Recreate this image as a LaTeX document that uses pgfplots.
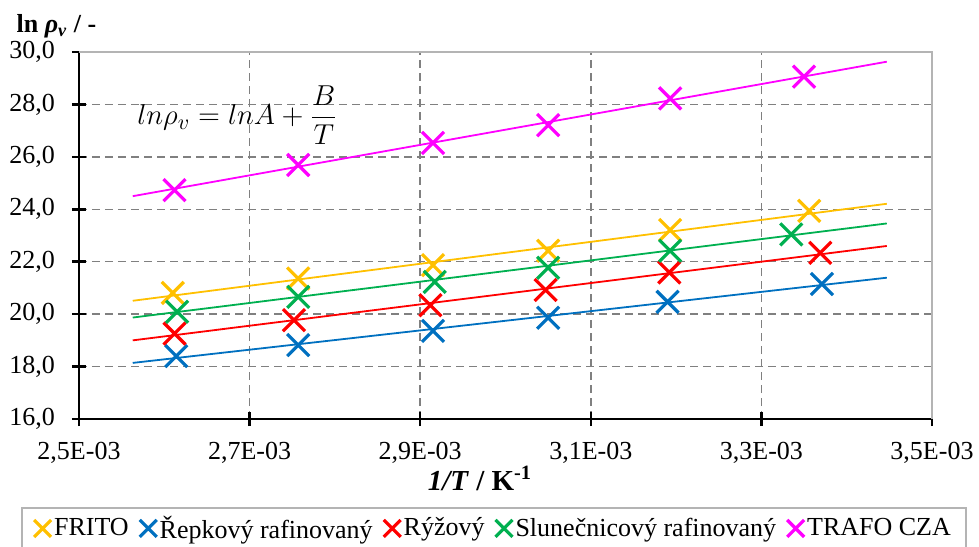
\documentclass[border=0pt]{standalone}
\usepackage{pgfplots}
\pgfplotsset{compat=1.18}
\usepackage{fontspec}
\setmainfont{Liberation Serif}
\definecolor{cOra}{HTML}{FFC000}
\definecolor{cBlu}{HTML}{0070C0}
\definecolor{cRed}{HTML}{FF0000}
\definecolor{cGrn}{HTML}{00B050}
\definecolor{cMag}{HTML}{FF00FF}
\definecolor{cGrid}{HTML}{808080}
\definecolor{cBord}{HTML}{B4B4B4}
\begin{document}
\begin{tikzpicture}
\begin{axis}[
  name=ax,
  scale only axis,
  width=426.5pt, height=183.5pt,
  xmin=2.5, xmax=3.5, ymin=16, ymax=30,
  xtick={2.5,2.7,2.9,3.1,3.3,3.5},
  xticklabels={{2,5E-03},{2,7E-03},{2,9E-03},{3,1E-03},{3,3E-03},{3,5E-03}},
  ytick={16,18,20,22,24,26,28,30},
  yticklabels={{16,0},{18,0},{20,0},{22,0},{24,0},{26,0},{28,0},{30,0}},
  ticklabel style={font=\fontsize{13}{15}\selectfont},
  yticklabel style={xshift=-5pt},
  xticklabel style={yshift=-4.5pt},
  grid=major,
  major grid style={cGrid, line width=0.75pt, dash pattern=on 4pt off 2.5pt},
  axis x line*=bottom, axis y line*=left,
  axis line style={black, line width=1.25pt, -},
  tick style={black, line width=1.25pt},
  tick align=center, major tick length=7pt,
  clip=false,
  legend style={at={(axis description cs:0.5,0)}, anchor=north,
    xshift=-5.75pt, yshift=-44pt, legend columns=-1,
    draw=cBord, line width=0.75pt,
    font=\fontsize{13}{15}\selectfont,
    inner xsep=6pt, inner ysep=2pt,
    /tikz/every odd column/.append style={column sep=0pt},
    /tikz/every even column/.append style={column sep=4pt},
    nodes={inner xsep=1.5pt}},
  legend image code/.code={\draw[#1, mark size=6pt] plot coordinates {(0.2cm,0cm)};},
  mark options={solid, line width=1.6pt},
]
\draw[cBord, line width=1pt] (rel axis cs:0,1) -- (rel axis cs:1,1) -- (rel axis cs:1,0);
% trend lines
\addplot[cOra, line width=0.9pt, forget plot] coordinates {(2.563,20.51) (3.447,24.21)};
\addplot[cBlu, line width=0.9pt, forget plot] coordinates {(2.563,18.14) (3.447,21.39)};
\addplot[cRed, line width=0.9pt, forget plot] coordinates {(2.563,19.00) (3.447,22.60)};
\addplot[cGrn, line width=0.9pt, forget plot] coordinates {(2.563,19.87) (3.447,23.46)};
\addplot[cMag, line width=0.9pt, forget plot] coordinates {(2.563,24.50) (3.447,29.63)};
% data
\addplot[only marks, mark=x, mark size=7.8pt, color=cOra] coordinates {
 (2.610,20.81) (2.757,21.36) (2.915,21.87) (3.050,22.42) (3.193,23.21) (3.356,23.94)};
\addlegendentry{FRITO}
\addplot[only marks, mark=x, mark size=7.8pt, color=cBlu] coordinates {
 (2.614,18.40) (2.757,18.82) (2.915,19.36) (3.050,19.86) (3.190,20.47) (3.371,21.15)};
\addlegendentry{Řepkový rafinovaný}
\addplot[only marks, mark=x, mark size=7.8pt, color=cRed] coordinates {
 (2.612,19.26) (2.752,19.77) (2.912,20.34) (3.047,20.92) (3.192,21.59) (3.369,22.34)};
\addlegendentry{Rýžový}
\addplot[only marks, mark=x, mark size=7.8pt, color=cGrn] coordinates {
 (2.615,20.09) (2.757,20.66) (2.917,21.23) (3.050,21.77) (3.193,22.42) (3.335,23.04)};
\addlegendentry{Slunečnicový rafinovaný}
\addplot[only marks, mark=x, mark size=7.8pt, color=cMag] coordinates {
 (2.612,24.73) (2.757,25.69) (2.915,26.53) (3.050,27.21) (3.193,28.23) (3.350,29.06)};
\addlegendentry{TRAFO CZA}
\end{axis}
\node[anchor=base west, inner sep=0pt, font=\fontsize{15.3}{18}\selectfont] at ([shift={(29pt,147pt)}]ax.south west)
  {$ln\rho_v = lnA + \displaystyle\frac{B}{T}$};
\node[anchor=base, inner sep=0pt, font=\fontsize{13}{15}\selectfont\bfseries] at ([shift={(-11.25pt,9.5pt)}]ax.north west)
  {ln \textit{ρ}\textsubscript{\textit{v}} / -};
\node[anchor=base, inner sep=0pt, font=\fontsize{14.5}{17}\selectfont\bfseries] at ([shift={(-12.75pt,-35.5pt)}]ax.south)
  {\textit{1/T} / K\textsuperscript{-1}};
\pgfresetboundingbox
\path[use as bounding box] ([shift={(-39.5pt,-63.5pt)}]ax.south west) rectangle ([shift={(23.5pt,26pt)}]ax.north east);
\end{tikzpicture}
\end{document}
